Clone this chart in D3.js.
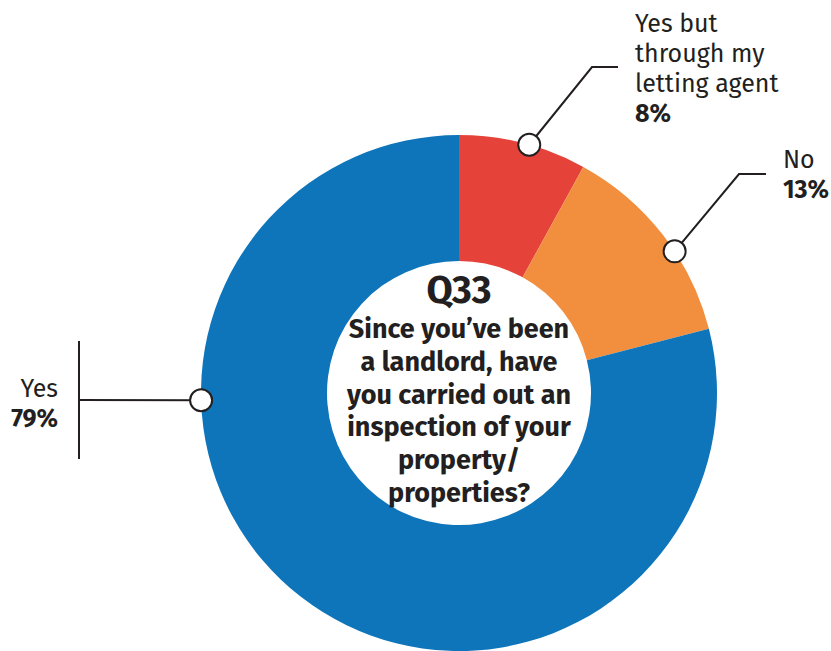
<!DOCTYPE html>
<html>
<head>
<meta charset="utf-8">
<script src="https://cdn.jsdelivr.net/npm/d3@7"></script>
<style>
  html, body { margin: 0; padding: 0; background: #fff; }
  svg { display: block; }
</style>
</head>
<body>
<svg id="chart" width="831" height="651"></svg>
<script>
// Survey answers, Q33
const categories = ["Yes but through my letting agent", "No", "Yes"];
const labelLines = [["Yes but", "through my", "letting agent"], ["No"], ["Yes"]];
const values = [8, 13, 79];
const colors = ["#e5433a", "#f28f3f", "#0e75ba"];
const question = "Q33";
const questionLines = ["Since you\u2019ve been", "a landlord, have", "you carried out an", "inspection of your", "property/", "properties?"];

const W = 831, H = 651;
const cx = 459, cy = 393;
const outerR = 258, innerR = 132;
const ink = "#231f20";
const font = "'Fira Sans', Roboto, 'Noto Sans', sans-serif";

const svg = d3.select("#chart");
const g = svg.append("g").attr("transform", `translate(${cx},${cy})`);

const pie = d3.pie().sort(null).value(d => d)(values);
const arc = d3.arc().innerRadius(innerR).outerRadius(outerR);

g.selectAll("path.slice")
  .data(pie)
  .join("path")
  .attr("class", "slice")
  .attr("d", arc)
  .attr("fill", (d, i) => colors[i]);

// callout layout: marker angle on the rim (degrees, clockwise from 12 o'clock), leader path, label anchor
const callouts = [
  { angle: 15.8, path: [[592, 67], [618, 67]], x: 635, y: 32, anchor: "start" },
  { angle: 56.7, path: [[739, 174], [766, 174]], x: 783, y: 168, anchor: "start" },
  { angle: -91.6, path: [[79, 400]], x: 58, y: 397, anchor: "end" }
];

const lineGap = 30;
callouts.forEach((c, i) => {
  const a = c.angle * Math.PI / 180;
  const mx = cx + outerR * Math.sin(a);
  const my = cy - outerR * Math.cos(a);
  const pts = [[mx, my], ...c.path];
  svg.append("path")
    .attr("d", d3.line()(pts))
    .attr("fill", "none")
    .attr("stroke", ink)
    .attr("stroke-width", 2);

  const t = svg.append("text")
    .attr("font-family", font)
    .attr("font-size", 25)
    .attr("fill", ink)
    .attr("text-anchor", c.anchor);
  labelLines[i].forEach((ln, k) => {
    t.append("tspan").attr("x", c.x).attr("y", c.y + k * lineGap).text(ln);
  });
  t.append("tspan")
    .attr("x", c.x)
    .attr("y", c.y + labelLines[i].length * lineGap)
    .attr("font-weight", 700)
    .text(values[i] + "%");

  svg.append("circle")
    .attr("cx", mx).attr("cy", my).attr("r", 11)
    .attr("fill", "#fff")
    .attr("stroke", ink)
    .attr("stroke-width", 2);
});

// vertical bracket on the "Yes" leader
svg.append("line")
  .attr("x1", 79).attr("x2", 79).attr("y1", 341).attr("y2", 459)
  .attr("stroke", ink).attr("stroke-width", 2);

// centre question
svg.append("text")
  .attr("x", cx).attr("y", 303)
  .attr("text-anchor", "middle")
  .attr("font-family", font)
  .attr("font-weight", 700)
  .attr("font-size", 38)
  .attr("fill", ink)
  .text(question);

const q = svg.append("text")
  .attr("text-anchor", "middle")
  .attr("font-family", font)
  .attr("font-weight", 700)
  .attr("font-size", 27)
  .attr("fill", ink);
questionLines.forEach((ln, k) => {
  q.append("tspan").attr("x", cx).attr("y", 338 + k * 32.8).text(ln);
});
</script>
</body>
</html>
